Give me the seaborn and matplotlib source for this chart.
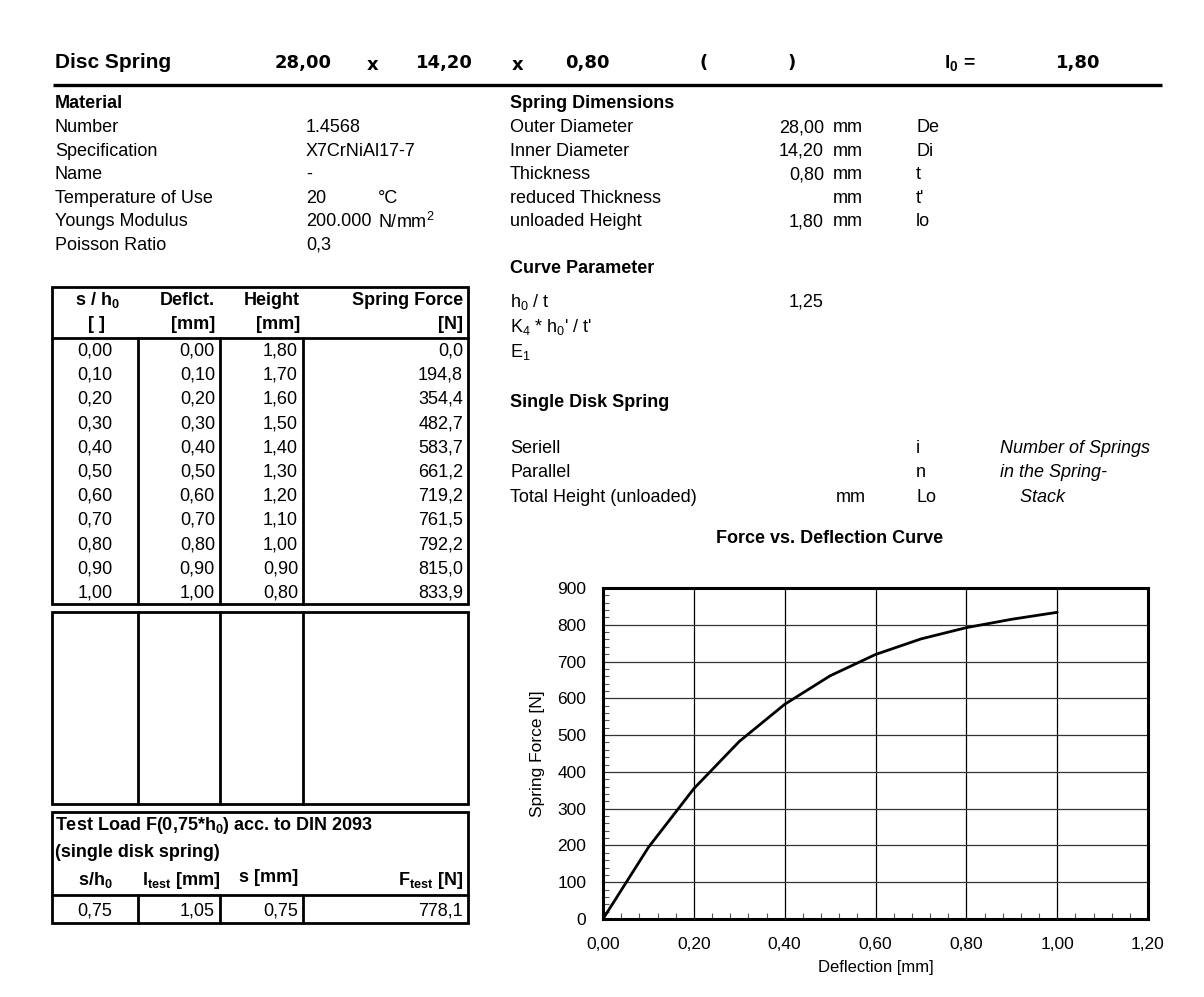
import matplotlib
matplotlib.use("Agg")
import matplotlib.pyplot as plt
from matplotlib.patches import Rectangle
from matplotlib.ticker import MultipleLocator, AutoMinorLocator, FuncFormatter
import pandas as pd
import seaborn as sns

# header: spring size
outer_d = "28,00"
inner_d = "14,20"
thick = "0,80"
free_height = "1,80"

# material block
material_labels = ["Number", "Specification", "Name", "Temperature of Use", "Youngs Modulus", "Poisson Ratio"]
material_values = ["1.4568", "X7CrNiAl17-7", "-", "20", "200.000", "0,3"]
material_units = ["", "", "", "°C", "N/mm$^2$", ""]

# spring dimensions block
dim_labels = ["Outer Diameter", "Inner Diameter", "Thickness", "reduced Thickness", "unloaded Height"]
dim_values = ["28,00", "14,20", "0,80", "", "1,80"]
dim_symbols = ["De", "Di", "t", "t'", "lo"]

curve_labels = [r"h$_0$ / t", r"K$_4$ * h$_0$' / t'", r"E$_1$"]
curve_values = ["1,25", "", ""]

stack_labels = ["Seriell", "Parallel", "Total Height (unloaded)"]
stack_units = ["", "", "mm"]
stack_symbols = ["i", "n", "Lo"]
stack_notes = ["Number of Springs", "in the Spring-", "    Stack"]

# force / deflection table
s_h0 = [0.00, 0.10, 0.20, 0.30, 0.40, 0.50, 0.60, 0.70, 0.80, 0.90, 1.00]
deflection = [0.00, 0.10, 0.20, 0.30, 0.40, 0.50, 0.60, 0.70, 0.80, 0.90, 1.00]
height = [1.80, 1.70, 1.60, 1.50, 1.40, 1.30, 1.20, 1.10, 1.00, 0.90, 0.80]
spring_force = [0.0, 194.8, 354.4, 482.7, 583.7, 661.2, 719.2, 761.5, 792.2, 815.0, 833.9]

# test load (DIN 2093)
test_row = [0.75, 1.05, 0.75, 778.1]


def de(v, n=2):
    return f"{v:.{n}f}".replace(".", ",")


sns.set_theme(style="white")
plt.rcParams["font.family"] = ["Liberation Sans", "DejaVu Sans"]
plt.rcParams["mathtext.fontset"] = "custom"
plt.rcParams["mathtext.rm"] = "Liberation Sans"
plt.rcParams["mathtext.it"] = "Liberation Sans:italic"
plt.rcParams["mathtext.bf"] = "Liberation Sans:bold"
plt.rcParams["mathtext.default"] = "regular"

W, H = 1204, 997
fig = plt.figure(figsize=(W / 100, H / 100), dpi=100)
fig.patch.set_facecolor("white")
bg = fig.add_axes([0, 0, 1, 1])
bg.set_xlim(0, W)
bg.set_ylim(H, 0)
bg.axis("off")

FS = 13


def put(x, y, s, ha="left", bold=False, italic=False, size=FS, family=None):
    kw = {}
    if family:
        kw["family"] = family
    bg.text(x, y, s, ha=ha, va="center", fontsize=size,
            fontweight="bold" if bold else "normal",
            fontstyle="italic" if italic else "normal", color="black", **kw)


# ---- header line ----
hy = 63
put(55, hy, "Disc Spring", bold=True, size=15)
num = ["DejaVu Sans"]
put(332, hy, outer_d, ha="right", bold=True, size=13, family=num)
put(373, hy + 2, "x", ha="center", bold=True, size=13, family=num)
put(473, hy, inner_d, ha="right", bold=True, size=13, family=num)
put(518, hy + 2, "x", ha="center", bold=True, size=13, family=num)
put(610, hy, thick, ha="right", bold=True, size=13, family=num)
put(704, hy, "(", ha="center", bold=True, size=13, family=num)
put(792, hy, ")", ha="center", bold=True, size=13, family=num)
put(944, hy, r"l$_\mathbf{0}$ =", bold=True, size=14)
put(1100, hy, free_height, ha="right", bold=True, size=13, family=num)
bg.plot([53, 1162], [85, 85], color="black", lw=2.4, solid_capstyle="butt")

# ---- material block ----
put(55, 104, "Material", bold=True)
put(510, 104, "Spring Dimensions", bold=True)
row_y = [128 + 23.4 * i for i in range(len(material_labels))]
for y, lab, val, unit in zip(row_y, material_labels, material_values, material_units):
    put(55, y, lab)
    put(306, y, val)
    if unit:
        put(378, y, unit)

for y, lab, val, sym in zip(row_y, dim_labels, dim_values, dim_symbols):
    put(510, y, lab)
    if val:
        put(824, y, val, ha="right")
    put(833, y, "mm")
    put(916, y, sym)

put(510, 268, "Curve Parameter", bold=True)
for i, (lab, val) in enumerate(zip(curve_labels, curve_values)):
    y = 302 + 25 * i
    put(510, y, lab)
    if val:
        put(824, y, val, ha="right")

put(510, 402, "Single Disk Spring", bold=True)
for i, (lab, unit, sym, note) in enumerate(zip(stack_labels, stack_units, stack_symbols, stack_notes)):
    y = 448 + 24.5 * i
    put(510, y, lab)
    if unit:
        put(836, y, unit)
    put(916, y, sym)
    put(1000, y, note, italic=True)

put(830, 538, "Force vs. Deflection Curve", ha="center", bold=True)

# ---- tables ----
LW = 2.0
col_x = [138, 220, 303]


def box(x0, y0, x1, y1):
    bg.add_patch(Rectangle((x0, y0), x1 - x0, y1 - y0, fill=False, ec="black", lw=LW))


def dividers(y0, y1):
    for x in col_x:
        bg.plot([x, x], [y0, y1], color="black", lw=LW)


box(52, 287, 468, 604)
bg.plot([52, 468], [338, 338], color="black", lw=LW)
dividers(338, 604)
put(97, 300, r"s / h$_\mathbf{0}$", ha="center", bold=True)
put(215, 300, "Deflct.", ha="right", bold=True)
put(300, 300, "Height", ha="right", bold=True)
put(463, 300, "Spring Force", ha="right", bold=True)
put(97, 324, "[ ]", ha="center", bold=True)
put(215, 324, "[mm]", ha="right", bold=True)
put(300, 324, "[mm]", ha="right", bold=True)
put(463, 324, "[N]", ha="right", bold=True)
for i in range(len(s_h0)):
    y = 351 + 24.2 * i
    put(95, y, de(s_h0[i]), ha="center")
    put(215, y, de(deflection[i]), ha="right")
    put(298, y, de(height[i]), ha="right")
    put(463, y, de(spring_force[i], 1), ha="right")

box(52, 612, 468, 804)
dividers(612, 804)

box(52, 812, 468, 923)
bg.plot([52, 468], [895, 895], color="black", lw=LW)
dividers(895, 923)
put(55, 825, r"Test Load F(0,75*h$_\mathbf{0}$) acc. to DIN 2093", bold=True)
put(55, 852, "(single disk spring)", bold=True)
put(95, 880, r"s/h$_\mathbf{0}$", ha="center", bold=True)
put(142, 880, r"l$_\mathbf{test}$ [mm]", bold=True)
put(298, 877, "s [mm]", ha="right", bold=True)
put(463, 880, r"F$_\mathbf{test}$ [N]", ha="right", bold=True)
put(95, 911, de(test_row[0]), ha="center")
put(215, 911, de(test_row[1]), ha="right")
put(298, 911, de(test_row[2]), ha="right")
put(463, 911, de(test_row[3], 1), ha="right")

# ---- chart ----
x0, x1, y0, y1 = 603, 1148, 588, 919
ax = fig.add_axes([x0 / W, 1 - y1 / H, (x1 - x0) / W, (y1 - y0) / H])
df = pd.DataFrame({"Deflection": deflection, "Force": spring_force})
sns.lineplot(data=df, x="Deflection", y="Force", ax=ax, color="black", linewidth=2, zorder=5)
ax.set_xlim(0, 1.2)
ax.set_ylim(0, 900)
ax.xaxis.set_major_locator(MultipleLocator(0.2))
ax.yaxis.set_major_locator(MultipleLocator(100))
ax.xaxis.set_minor_locator(AutoMinorLocator(5))
ax.yaxis.set_minor_locator(AutoMinorLocator(5))
ax.xaxis.set_major_formatter(FuncFormatter(lambda v, p: de(v)))
ax.yaxis.set_major_formatter(FuncFormatter(lambda v, p: f"{v:.0f}"))
ax.grid(True, which="major", axis="x", color="black", lw=0.9)
ax.grid(True, which="major", axis="y", color="#333333", lw=0.9)
ax.tick_params(which="major", length=0, labelsize=12.5, colors="black")
ax.tick_params(axis="x", which="major", pad=13)
ax.tick_params(axis="y", which="major", pad=12)
ax.tick_params(which="minor", direction="in", length=4, width=0.8, color="#555555",
               bottom=True, left=True)
for sp in ax.spines.values():
    sp.set_visible(True)
    sp.set_color("black")
    sp.set_linewidth(2.2)
ax.set_xlabel("Deflection [mm]", fontsize=12, labelpad=6, color="black")
ax.set_ylabel("Spring Force [N]", fontsize=12.5, labelpad=9, color="black")
ax.set_facecolor("white")

fig.savefig("out.png", dpi=100, facecolor="white")
